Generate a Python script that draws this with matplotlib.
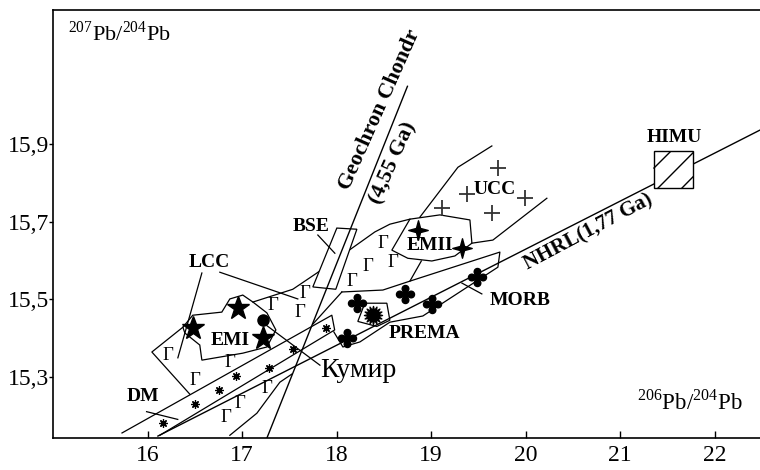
import matplotlib
matplotlib.use('Agg')
import matplotlib.pyplot as plt
from matplotlib.patches import Polygon
from matplotlib.path import Path

plt.rcParams['font.family'] = ['Liberation Serif', 'DejaVu Serif']
plt.rcParams['mathtext.fontset'] = 'custom'
plt.rcParams['mathtext.rm'] = 'Liberation Serif'

# axes
x_ticks = [16, 17, 18, 19, 20, 21, 22]
y_ticks = [15.3, 15.5, 15.7, 15.9]
y_tick_labels = ['15,3', '15,5', '15,7', '15,9']

# reference lines
geochron_x = [17.26, 18.75]
geochron_y = [15.14, 16.05]
nhrl_x = [16.11, 22.48]
nhrl_y = [15.147, 15.937]

# field outlines
kumir_field_x = [15.73, 17.95, 17.98, 16.13]
kumir_field_y = [15.155, 15.459, 15.421, 15.149]

emi_x = [16.374, 16.479, 16.786, 16.871, 17.008, 17.115, 17.263, 17.358, 17.263, 17.008, 16.575, 16.553, 16.395]
emi_y = [15.428, 15.459, 15.467, 15.501, 15.511, 15.493, 15.465, 15.421, 15.377, 15.361, 15.343, 15.382, 15.413]

emii_x = [18.776, 19.093, 19.411, 19.432, 19.252, 19.008, 18.754, 18.585]
emii_y = [15.707, 15.718, 15.705, 15.645, 15.612, 15.599, 15.606, 15.627]

prema_x = [18.299, 18.532, 18.564, 18.426, 18.225]
prema_y = [15.490, 15.490, 15.446, 15.430, 15.443]

bse_x = [17.749, 18.003, 18.215, 17.992]
bse_y = [15.532, 15.684, 15.681, 15.526]

himu_x = [21.357, 21.770, 21.770, 21.357]
himu_y = [15.787, 15.787, 15.883, 15.883]
himu_hatch = [([21.358, 21.527], [15.839, 15.880]),
              ([21.400, 21.770], [15.787, 15.878]),
              ([21.653, 21.770], [15.787, 15.816])]

morb_x = [18.056, 18.490, 18.776, 19.728, 19.707, 18.913, 18.564, 18.247, 18.067, 17.971]
morb_y = [15.519, 15.524, 15.547, 15.622, 15.583, 15.457, 15.441, 15.390, 15.377, 15.416]

upper_field_x = [17.115, 17.537, 17.792, 18.088, 18.405, 18.564, 18.776]
upper_field_y = [15.493, 15.526, 15.568, 15.619, 15.674, 15.694, 15.707]

left_field_x = [16.374, 16.046, 16.448]
left_field_y = [15.428, 15.364, 15.255]

lower_field_x = [16.871, 17.157, 17.400, 17.527]
lower_field_y = [15.149, 15.206, 15.286, 15.307]

link1_x = [17.749, 18.056]
link1_y = [15.436, 15.519]
link2_x = [18.776, 18.897]
link2_y = [15.547, 15.599]

ucc_low_x = [19.432, 19.654, 20.225]
ucc_low_y = [15.645, 15.653, 15.761]
ucc_up_x = [18.881, 19.284, 19.643]
ucc_up_y = [15.712, 15.841, 15.896]

# samples
kumir_x = [16.16, 16.50, 16.76, 16.94, 17.29, 17.54, 17.89]
kumir_y = [15.181, 15.230, 15.266, 15.303, 15.323, 15.372, 15.425]

gamma_x = [16.214, 16.501, 16.871, 17.326, 17.612, 17.665, 17.263, 16.977, 16.829, 18.162, 18.331, 18.596, 18.490]
gamma_y = [15.356, 15.291, 15.338, 15.485, 15.467, 15.516, 15.271, 15.232, 15.196, 15.545, 15.586, 15.594, 15.643]

emi_star_x = [16.956, 16.479, 17.220]
emi_star_y = [15.477, 15.426, 15.400]
circle_x = [17.220]
circle_y = [15.446]

emii_pt_x = [18.860, 19.326]
emii_pt_y = [15.679, 15.632]

ucc_pt_x = [19.114, 19.379, 19.643, 19.992, 19.707]
ucc_pt_y = [15.736, 15.772, 15.723, 15.761, 15.839]

morb_pt_x = [18.215, 18.109, 18.723, 19.008, 19.485]
morb_pt_y = [15.490, 15.400, 15.514, 15.488, 15.557]

prema_pt_x = [18.384]
prema_pt_y = [15.460]

fig = plt.figure(figsize=(7.6, 4.7), dpi=100)
ax = fig.add_axes([53 / 760, 32 / 470, 707 / 760, 428 / 470])
ax.set_xlim(15.0, 22.48)
ax.set_ylim(15.142, 16.247)

lw = 0.9
k = 'black'
for xs, ys in [(upper_field_x, upper_field_y), (left_field_x, left_field_y),
               (lower_field_x, lower_field_y), (link1_x, link1_y), (link2_x, link2_y),
               (ucc_low_x, ucc_low_y), (ucc_up_x, ucc_up_y), (morb_x, morb_y),
               (kumir_field_x, kumir_field_y)]:
    ax.plot(xs, ys, color=k, lw=lw)

ax.add_patch(Polygon(list(zip(emi_x, emi_y)), closed=True, fill=False, ec=k, lw=lw))
ax.add_patch(Polygon(list(zip(emii_x, emii_y)), closed=True, fill=False, ec=k, lw=lw))
ax.add_patch(Polygon(list(zip(prema_x, prema_y)), closed=True, fill=False, ec=k, lw=lw))
ax.add_patch(Polygon(list(zip(bse_x, bse_y)), closed=True, fc='white', ec=k, lw=lw, zorder=3))
ax.add_patch(Polygon(list(zip(himu_x, himu_y)), closed=True, fc='white', ec=k, lw=1.0, zorder=3))
for hx, hy in himu_hatch:
    ax.plot(hx, hy, color=k, lw=1.0, zorder=4)

ax.plot(geochron_x, geochron_y, color=k, lw=1.0, zorder=4)
ax.plot(nhrl_x, nhrl_y, color=k, lw=1.0, zorder=2)

# markers
clover = Path.make_compound_path(
    Path.circle((0.55, 0), 0.32), Path.circle((-0.55, 0), 0.32),
    Path.circle((0, 0.55), 0.32), Path.circle((0, -0.55), 0.32),
    Path.circle((0, 0), 0.25))
spark = Path.unit_regular_star(4, innerCircle=0.3)
sun = Path.unit_regular_star(16, innerCircle=0.55)

ax.plot(kumir_x, kumir_y, ls='none', marker=(8, 2, 0), ms=6, mew=0.9, color=k, zorder=5)
ax.plot(emi_star_x, emi_star_y, ls='none', marker='*', ms=17, color=k, zorder=5)
ax.plot(circle_x, circle_y, ls='none', marker='o', ms=8, color=k, zorder=5)
ax.plot(emii_pt_x, emii_pt_y, ls='none', marker=spark, ms=14, color=k, zorder=5)
ax.plot(ucc_pt_x, ucc_pt_y, ls='none', marker='+', ms=11, mew=1.3, color='#333333', zorder=5)
ax.plot(morb_pt_x, morb_pt_y, ls='none', marker=clover, ms=13, color=k, zorder=5)
ax.plot(prema_pt_x, prema_pt_y, ls='none', marker=sun, ms=13, color=k, zorder=5)

for gx, gy in zip(gamma_x, gamma_y):
    ax.text(gx, gy, 'Г', fontsize=13.5, ha='center', va='center', zorder=5)

# pointer lines
ax.plot([16.575, 16.321], [15.568, 15.349], color=k, lw=lw)
ax.plot([16.765, 17.590], [15.570, 15.501], color=k, lw=lw)
ax.plot([17.802, 17.982], [15.666, 15.619], color=k, lw=lw, zorder=4)
ax.plot([17.252, 17.824], [15.434, 15.330], color=k, lw=lw)
ax.plot([19.326, 19.537], [15.542, 15.514], color=k, lw=lw)
ax.plot([15.99, 16.32], [15.210, 15.190], color=k, lw=lw)

# labels
bold = dict(fontsize=14, fontweight='bold', ha='center', va='center', zorder=6)
ax.text(16.649, 15.594, 'LCC', **bold)
ax.text(16.871, 15.395, 'EMI', **bold)
ax.text(18.987, 15.638, 'EMII', **bold)
ax.text(19.675, 15.784, 'UCC', **bold)
ax.text(17.728, 15.688, 'BSE', **bold)
ax.text(15.950, 15.248, 'DM', **bold)
ax.text(18.934, 15.413, 'PREMA', **bold)
ax.text(19.940, 15.498, 'MORB', **bold)
ax.text(21.570, 15.917, 'HIMU', **bold)
big = dict(bold, fontsize=16)
ax.text(18.458, 15.989, 'Geochron Chondr', rotation=66, rotation_mode='anchor', **big)
ax.text(18.596, 15.852, '(4,55 Ga)', rotation=66, rotation_mode='anchor', **big)
ax.text(20.661, 15.674, 'NHRL(1,77 Ga)', rotation=28, rotation_mode='anchor', **dict(bold, fontsize=15))
ax.text(17.83, 15.315, 'Кумир', fontsize=20, ha='left', va='center')

ax.text(0.021, 0.946, r'$^{207}$Pb/$^{204}$Pb', transform=ax.transAxes,
        fontsize=16, ha='left', va='center')
ax.text(0.976, 0.084, r'$^{206}$Pb/$^{204}$Pb', transform=ax.transAxes,
        fontsize=16.5, ha='right', va='center')

ax.set_xticks(x_ticks)
ax.set_xticklabels([str(v) for v in x_ticks])
ax.set_yticks(y_ticks)
ax.set_yticklabels(y_tick_labels)
ax.tick_params(axis='x', direction='in', length=5, width=1, labelsize=17, pad=5)
ax.tick_params(axis='y', direction='out', length=3, width=1, labelsize=17, pad=0)
ax.spines['right'].set_visible(False)
for s in ['left', 'top', 'bottom']:
    ax.spines[s].set_linewidth(1.2)

fig.savefig('out.png', dpi=100)
